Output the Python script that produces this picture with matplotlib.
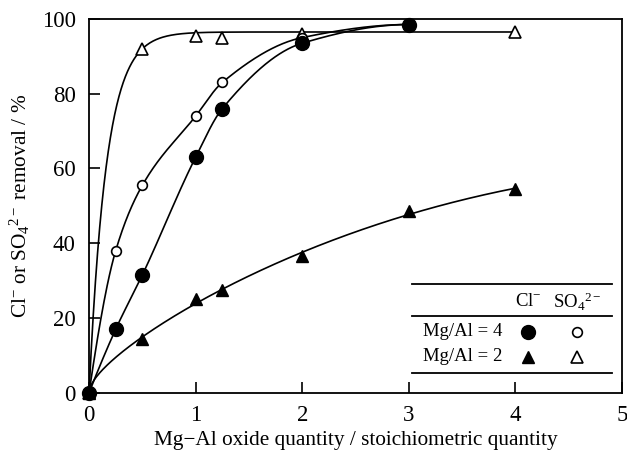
import numpy as np
import matplotlib
matplotlib.use('Agg')
import matplotlib.pyplot as plt

plt.rcParams['font.family'] = ['Liberation Serif', 'DejaVu Serif']
plt.rcParams['mathtext.fontset'] = 'custom'
plt.rcParams['mathtext.rm'] = 'Liberation Serif'
plt.rcParams['mathtext.it'] = 'Liberation Serif:italic'

# Mg/Al = 4
x_cl4 = [0, 0.25, 0.5, 1, 1.25, 2, 3]
y_cl4 = [0, 17, 31.5, 63, 76, 93.5, 98.5]
x_so4 = [0, 0.25, 0.5, 1, 1.25, 2, 3]
y_so4 = [0, 38, 55.5, 74, 83, 95, 98.5]
# Mg/Al = 2
x_cl2 = [0, 0.5, 1, 1.25, 2, 3, 4]
y_cl2 = [0, 14.5, 25, 27.5, 36.5, 48.5, 54.5]
x_so2 = [0, 0.5, 1, 1.25, 2, 4]
y_so2 = [0, 92, 95.5, 95, 96, 96.5]


def pchip(x, y, xs):
    x = np.asarray(x, float); y = np.asarray(y, float)
    h = np.diff(x); d = np.diff(y) / h
    m = np.zeros_like(y)
    for k in range(1, len(x) - 1):
        if d[k-1] * d[k] > 0:
            w1 = 2*h[k] + h[k-1]; w2 = h[k] + 2*h[k-1]
            m[k] = (w1 + w2) / (w1/d[k-1] + w2/d[k])
    m[0] = ((2*h[0] + h[1])*d[0] - h[0]*d[1]) / (h[0] + h[1])
    if np.sign(m[0]) != np.sign(d[0]):
        m[0] = 0
    m[-1] = ((2*h[-1] + h[-2])*d[-1] - h[-1]*d[-2]) / (h[-1] + h[-2])
    if np.sign(m[-1]) != np.sign(d[-1]):
        m[-1] = 0
    i = np.clip(np.searchsorted(x, xs) - 1, 0, len(x) - 2)
    t = (xs - x[i]) / h[i]
    h00 = 2*t**3 - 3*t**2 + 1; h10 = t**3 - 2*t**2 + t
    h01 = -2*t**3 + 3*t**2; h11 = t**3 - t**2
    return h00*y[i] + h10*h[i]*m[i] + h01*y[i+1] + h11*h[i]*m[i+1]


fig = plt.figure(figsize=(6.27, 4.5), dpi=100)
ax = fig.add_axes([0.142, 0.127, 0.85, 0.831])

lw = 1.2
xs = np.linspace(0, 3, 300)
ax.plot(xs, pchip(x_cl4, y_cl4, xs), color='black', lw=lw)
ax.plot(xs, pchip(x_so4, y_so4, xs), color='black', lw=lw)
xs2 = np.linspace(0, 4, 400)
# least-squares smooth fit for the Mg/Al = 2 chloride series
xc = np.asarray(x_cl2, float)
A = np.column_stack([np.sqrt(xc), xc, xc**2])
p, *_ = np.linalg.lstsq(A, np.asarray(y_cl2, float), rcond=None)
ax.plot(xs2, p[0]*np.sqrt(xs2) + p[1]*xs2 + p[2]*xs2**2, color='black', lw=lw)
# saturation curve for the fast sulfate series
a = y_so2[-1]
b = -np.log(1 - y_so2[1] / a) / x_so2[1]
ax.plot(xs2, a * (1 - np.exp(-b * xs2)), color='black', lw=lw)

ax.plot(x_so2, y_so2, '^', ms=8, mfc='white', mec='black', mew=1.2, clip_on=False, zorder=3)
ax.plot(x_so4, y_so4, 'o', ms=7, mfc='white', mec='black', mew=1.2, clip_on=False, zorder=3)
ax.plot(x_cl2, y_cl2, '^', ms=9, color='black', clip_on=False, zorder=4)
ax.plot(x_cl4, y_cl4, 'o', ms=10, color='black', clip_on=False, zorder=4)

ax.set_xlim(0, 5)
ax.set_ylim(0, 100)
ax.set_xticks([0, 1, 2, 3, 4, 5])
ax.set_yticks([0, 20, 40, 60, 80, 100])
ax.tick_params(direction='in', length=8, width=1.2, labelsize=16.5)
ax.tick_params(axis='x', pad=8.5)
ax.tick_params(axis='y', pad=9.5)
for s in ax.spines.values():
    s.set_linewidth(1.3)
ax.set_xlabel('Mg\u2212Al oxide quantity / stoichiometric quantity', fontsize=15.3, labelpad=3.5)
ax.set_ylabel(r'Cl$^{-}$ or SO$_4$$^{2-}$ removal / %', fontsize=15.3, labelpad=7)

# table-style legend
for yl in [29.1, 20.6, 5.3]:
    ax.plot([3.03, 4.91], [yl, yl], color='black', lw=1.3)
ax.text(4.12, 24.3, r'Cl$^{-}$', ha='center', va='center', fontsize=13.5)
ax.text(4.58, 24.3, r'SO$_4$$^{2-}$', ha='center', va='center', fontsize=13.5)
ax.text(3.13, 16.3, 'Mg/Al = 4', ha='left', va='center', fontsize=13.5)
ax.text(3.13, 9.6, 'Mg/Al = 2', ha='left', va='center', fontsize=13.5)
ax.plot([4.12], [16.3], 'o', ms=10, color='black')
ax.plot([4.58], [16.3], 'o', ms=7, mfc='white', mec='black', mew=1.2)
ax.plot([4.12], [9.6], '^', ms=9, color='black')
ax.plot([4.58], [9.6], '^', ms=8, mfc='white', mec='black', mew=1.2)

fig.savefig('out.png', dpi=100)
